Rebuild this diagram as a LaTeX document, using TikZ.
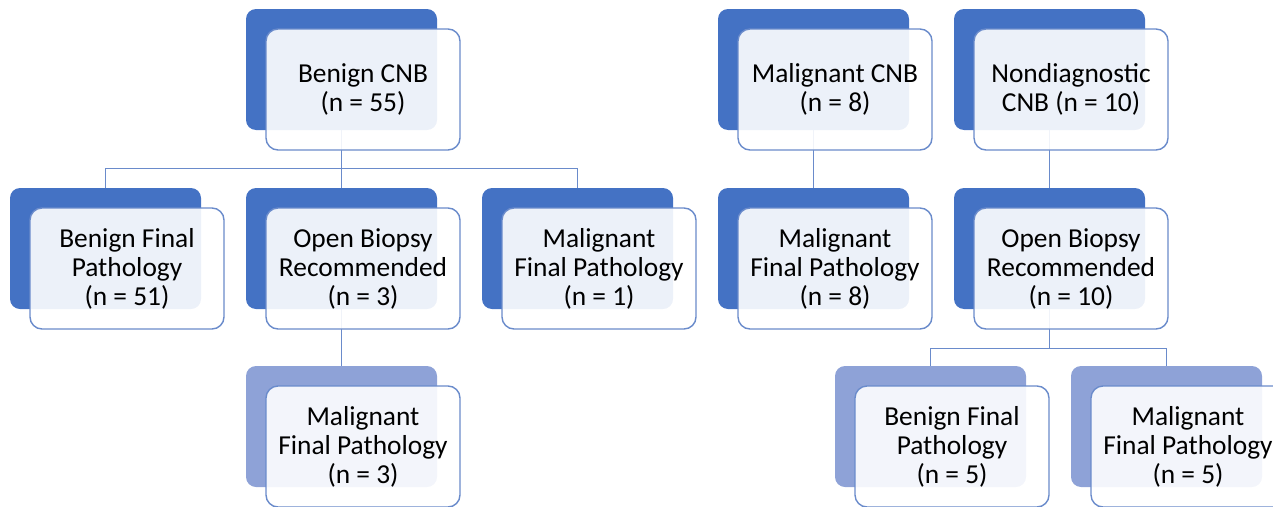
\documentclass[tikz,border=0pt]{standalone}
\usepackage{fontspec}
\setmainfont{Carlito}
\usepackage{tikz}
\usetikzlibrary{positioning,backgrounds}
\pgfdeclarelayer{edgelayer}
\pgfdeclarelayer{nodelayer}
\pgfsetlayers{edgelayer,nodelayer,main}
\definecolor{darkblu}{HTML}{4472C4}
\definecolor{lightblu}{HTML}{8EA2D7}
\definecolor{edgeblu}{HTML}{6A8BCB}
\tikzset{font=\fontsize{27.4}{29}\selectfont}
\tikzstyle{backbox}=[rectangle,rounded corners=10pt,fill=darkblu,minimum width=191pt,minimum height=121pt,inner sep=0pt]
\tikzstyle{backlight}=[backbox,fill=lightblu]
\tikzstyle{frontbox}=[rectangle,rounded corners=12pt,draw=edgeblu,line width=1.4pt,fill=white,fill opacity=0.9,text opacity=1,minimum width=194pt,minimum height=121pt,inner sep=0pt,align=center]
\tikzstyle{conn}=[draw=edgeblu,line width=1.4pt]
\begin{document}
\begin{tikzpicture}[x=1pt,y=-1pt]
\clip (0,0) rectangle (1273,506);
\useasboundingbox (0,0) rectangle (1273,506);
\begin{pgfonlayer}{nodelayer}
\node[backbox] (bCNB) at (341.5,69.5) {};
\node[backbox] (bBFP) at (105.5,248.5) {};
\node[backbox] (bOB) at (341.5,248.5) {};
\node[backbox] (bMFP) at (577.5,248.5) {};
\node[backlight] (bOBM) at (341.5,426.5) {};
\node[backbox] (mCNB) at (813.5,69.5) {};
\node[backbox] (mMFP) at (813.5,248.5) {};
\node[backbox] (nCNB) at (1049.5,69.5) {};
\node[backbox] (nOB) at (1049.5,248.5) {};
\node[backlight] (nOBB) at (930.5,426.5) {};
\node[backlight] (nOBM) at (1166.5,426.5) {};
\end{pgfonlayer}
\node[frontbox] (fCNB) at (363,89.5) {Benign CNB\\(n = 55)};
\node[frontbox] (fBFP) at (127,268.5) {Benign Final\\Pathology\\(n = 51)};
\node[frontbox] (fOB) at (363,268.5) {Open Biopsy\\Recommended\\(n = 3)};
\node[frontbox] (fMFP) at (599,268.5) {Malignant\\Final Pathology\\(n = 1)};
\node[frontbox] (fOBM) at (363,446.5) {Malignant\\Final Pathology\\(n = 3)};
\node[frontbox] (gCNB) at (835,89.5) {Malignant CNB\\(n = 8)};
\node[frontbox] (gMFP) at (835,268.5) {Malignant\\Final Pathology\\(n = 8)};
\node[frontbox] (hCNB) at (1071,89.5) {Nondiagnostic\\CNB (n = 10)};
\node[frontbox] (hOB) at (1071,268.5) {Open Biopsy\\Recommended\\(n = 10)};
\node[frontbox] (hOBB) at (952,446.5) {Benign Final\\Pathology\\(n = 5)};
\node[frontbox] (hOBM) at (1188,446.5) {Malignant\\Final Pathology\\(n = 5)};
\begin{pgfonlayer}{edgelayer}
\path[conn]
(bCNB.south) -- ++(0,38) -| (bBFP.north)
(bCNB.south) -- (bOB.north)
(bCNB.south) -- ++(0,38) -| (bMFP.north)
(bOB.south) -- (bOBM.north)
(mCNB.south) -- (mMFP.north)
(nCNB.south) -- (nOB.north)
(nOB.south) -- ++(0,39) -| (nOBB.north)
(nOB.south) -- ++(0,39) -| (nOBM.north);
\end{pgfonlayer}
\end{tikzpicture}
\end{document}
